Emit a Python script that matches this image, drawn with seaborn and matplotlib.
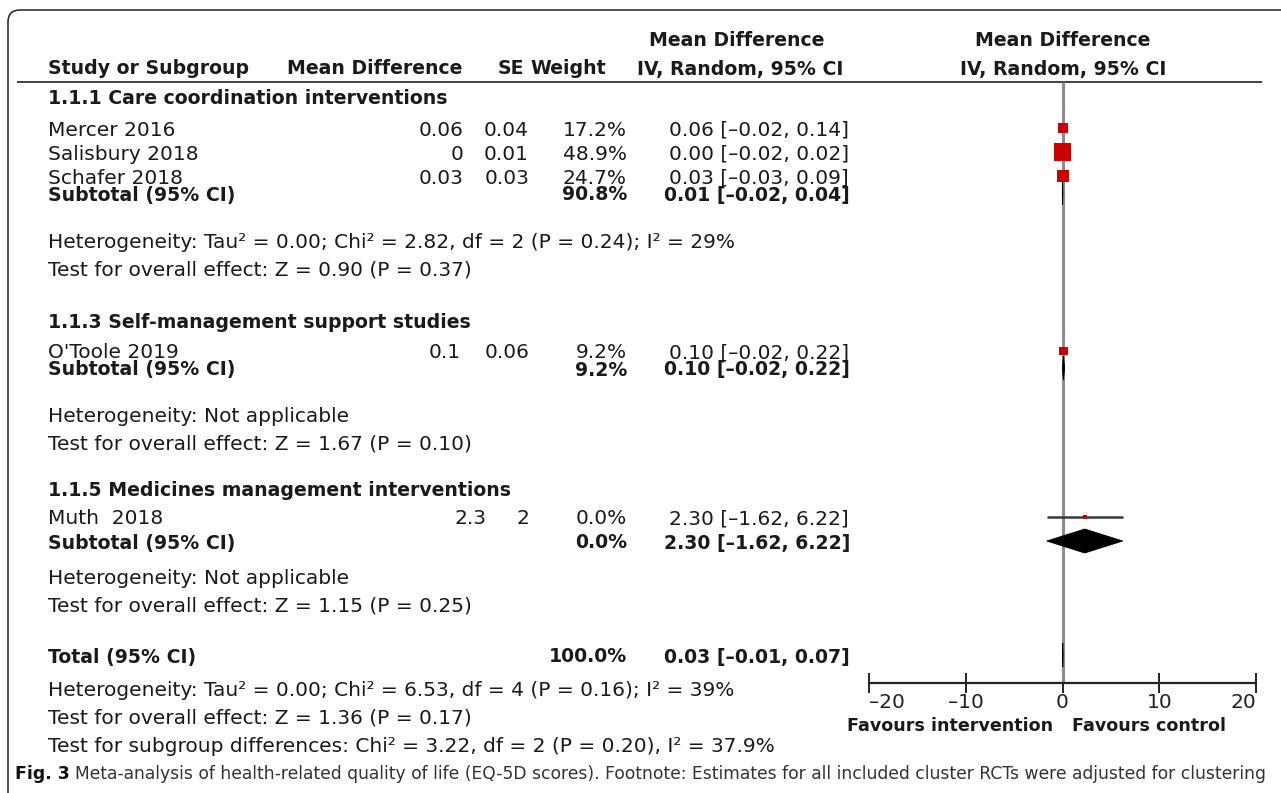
import matplotlib
matplotlib.use("Agg")
import matplotlib.pyplot as plt
from matplotlib.patches import FancyBboxPatch, Polygon
import seaborn as sns
import pandas as pd

# study level data
studies = ["Mercer 2016", "Salisbury 2018", "Schafer 2018", "O'Toole 2019", "Muth  2018"]
md_text = ["0.06", "0", "0.03", "0.1", "2.3"]
se_text = ["0.04", "0.01", "0.03", "0.06", "2"]
md = [0.06, 0.00, 0.03, 0.10, 2.30]
ci_lo = [-0.02, -0.02, -0.03, -0.02, -1.62]
ci_hi = [0.14, 0.02, 0.09, 0.22, 6.22]
weights = [17.2, 48.9, 24.7, 9.2, 0.0]

# subgroups
groups = ["1.1.1 Care coordination interventions",
          "1.1.3 Self-management support studies",
          "1.1.5 Medicines management interventions"]
sub_weight = [90.8, 9.2, 0.0]
sub_md = [0.01, 0.10, 2.30]
sub_lo = [-0.02, -0.02, -1.62]
sub_hi = [0.04, 0.22, 6.22]
sub_het = ["Heterogeneity: Tau² = 0.00; Chi² = 2.82, df = 2 (P = 0.24); I² = 29%",
           "Heterogeneity: Not applicable",
           "Heterogeneity: Not applicable"]
sub_test = ["Test for overall effect: Z = 0.90 (P = 0.37)",
            "Test for overall effect: Z = 1.67 (P = 0.10)",
            "Test for overall effect: Z = 1.15 (P = 0.25)"]

total_weight = 100.0
total_md, total_lo, total_hi = 0.03, -0.01, 0.07
total_het = "Heterogeneity: Tau² = 0.00; Chi² = 6.53, df = 4 (P = 0.16); I² = 39%"
total_test = "Test for overall effect: Z = 1.36 (P = 0.17)"
subgroup_test = "Test for subgroup differences: Chi² = 3.22, df = 2 (P = 0.20), I² = 37.9%"
xticks = [-20, -10, 0, 10, 20]
caption = ("Meta-analysis of health-related quality of life (EQ-5D scores). "
           "Footnote: Estimates for all included cluster RCTs were adjusted for clustering")

# row layout (pixels from top)
study_y = [128, 152, 176, 351, 517]
md_right = [463, 463, 463, 461, 486]
group_y = [96, 321, 489]
sub_y = [193, 368, 541]
het_y = [241, 415, 577]
test_y = [268, 442, 604]
total_y = 655

sns.set_style("white")
plt.rcParams['font.family'] = ['DejaVu Sans']
FS = 14.5    # regular text
FB = 13.6    # bold text
TC = "#1a1a1a"
LX = 48
VA = "center_baseline"


def ci_str(m, lo, hi):
    return f"{m:.2f} [{lo:.2f}, {hi:.2f}]".replace("-", "–")


fig = plt.figure(figsize=(12.81, 7.93), dpi=100)
ax = fig.add_axes([0, 0, 1, 1])
ax.set_xlim(0, 1281)
ax.set_ylim(793, 0)
ax.axis("off")

# frame
ax.add_patch(FancyBboxPatch((8, 10), 1300, 800, boxstyle="round,pad=0,rounding_size=12",
                            fill=False, ec="#222222", lw=1.1))

# header
hdr = dict(va=VA, fontsize=FB, weight="bold", color=TC)
ax.text(737, 38, "Mean Difference", ha="center", **hdr)
ax.text(1063, 38, "Mean Difference", ha="center", **hdr)
ax.text(LX, 67, "Study or Subgroup", ha="left", **hdr)
ax.text(462, 67, "Mean Difference", ha="right", **hdr)
ax.text(524, 67, "SE", ha="right", **hdr)
ax.text(606, 67, "Weight", ha="right", **hdr)
ax.text(740, 67, "IV, Random, 95% CI", ha="center", **hdr)
ax.text(1063, 67, "IV, Random, 95% CI", ha="center", **hdr)
ax.hlines(82, 17, 1262, color="#333333", lw=1.3)

reg = dict(va=VA, fontsize=FS, color=TC)
bld = dict(va=VA, fontsize=FB, weight="bold", color=TC)

# study rows
for i, name in enumerate(studies):
    y = study_y[i]
    ax.text(LX, y, name, ha="left", **reg)
    ax.text(md_right[i], y, md_text[i], ha="right", **reg)
    ax.text(529, y, se_text[i], ha="right", **reg)
    ax.text(627, y, f"{weights[i]:.1f}%", ha="right", **reg)
    ax.text(849, y, ci_str(md[i], ci_lo[i], ci_hi[i]), ha="right", **reg)

# subgroup rows
for g, title in enumerate(groups):
    ax.text(LX, group_y[g], title, ha="left", **bld)
    ax.text(LX, sub_y[g], "Subtotal (95% CI)", ha="left", **bld)
    ax.text(627, sub_y[g], f"{sub_weight[g]:.1f}%", ha="right", **bld)
    ax.text(850, sub_y[g], ci_str(sub_md[g], sub_lo[g], sub_hi[g]), ha="right", **bld)
    ax.text(LX, het_y[g], sub_het[g], ha="left", **reg)
    ax.text(LX, test_y[g], sub_test[g], ha="left", **reg)

# total
ax.text(LX, total_y, "Total (95% CI)", ha="left", **bld)
ax.text(627, total_y, f"{total_weight:.1f}%", ha="right", **bld)
ax.text(850, total_y, ci_str(total_md, total_lo, total_hi), ha="right", **bld)
ax.text(LX, 689, total_het, ha="left", **reg)
ax.text(LX, 716, total_test, ha="left", **reg)
ax.text(LX, 744, subgroup_test, ha="left", **reg)

# caption, sized to fit the frame width
t = ax.text(15, 772, "Fig. 3", ha="left", va=VA, fontsize=12.5, weight="bold", color="#111111")
c = ax.text(75, 772, caption, ha="left", va=VA, fontsize=12, color="#333333")
fig.canvas.draw()
w = c.get_window_extent().width
c.set_fontsize(12 * (1262 - 75) / w)

# forest plot panel
fp = fig.add_axes([869 / 1281, 0, (1256 - 869) / 1281, 1])
fp.set_xlim(-20, 20)
fp.set_ylim(793, 0)
fp.patch.set_alpha(0)

fp.vlines(0, 82, 683, color="#8c8c8c", lw=2.2, zorder=1)
fp.hlines(study_y, ci_lo, ci_hi, color="#3a3a3a", lw=1.8, zorder=2)

df = pd.DataFrame({"md": md, "y": study_y, "w": weights})
sns.scatterplot(data=df, x="md", y="y", size="w", sizes=(10, 150), marker="s",
                color="#cc0000", linewidth=0, legend=False, ax=fp, zorder=3)

for g in range(len(groups)):
    y = sub_y[g]
    fp.add_patch(Polygon([(sub_lo[g], y), (sub_md[g], y - 12), (sub_hi[g], y), (sub_md[g], y + 12)],
                         closed=True, fc="black", ec="black", lw=0.6, zorder=3))
fp.add_patch(Polygon([(total_lo, total_y), (total_md, total_y - 12), (total_hi, total_y),
                      (total_md, total_y + 12)], closed=True, fc="black", ec="black", lw=0.6, zorder=3))

fp.set_xlabel("")
fp.set_ylabel("")
fp.set_yticks([])
for s in ["top", "left", "right"]:
    fp.spines[s].set_visible(False)
fp.spines["bottom"].set_position(("data", 683))
fp.spines["bottom"].set_bounds(-20, 20)
fp.spines["bottom"].set_linewidth(1.6)
fp.spines["bottom"].set_color("#222222")
fp.set_xticks(xticks)
fp.set_xticklabels([str(v).replace("-", "–") for v in xticks])
fp.tick_params(axis="x", direction="inout", length=14, width=1.4, labelsize=FS,
               pad=0, colors="#222222", bottom=True)
labs = fp.get_xticklabels()
labs[0].set_ha("left")
labs[-1].set_ha("right")
fp.text(-1.0, 724, "Favours intervention", ha="right", va=VA, fontsize=12.6, weight="bold", color=TC)
fp.text(1.0, 724, "Favours control", ha="left", va=VA, fontsize=12.6, weight="bold", color=TC)

fig.savefig("out.png", dpi=100)
